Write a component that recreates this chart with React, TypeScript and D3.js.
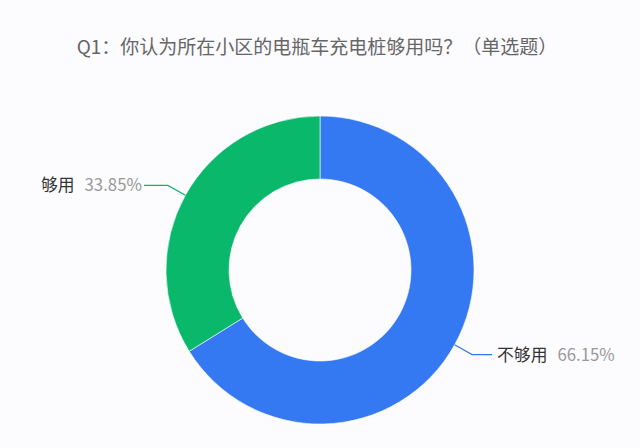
import React from "react";
import * as d3 from "d3";

const title = "Q1：你认为所在小区的电瓶车充电桩够用吗？（单选题）";
const categories = ["不够用", "够用"];
const values = [66.15, 33.85];
const colors = ["#3478f2", "#0ab86b"];

const W = 640;
const H = 448;
const cx = 320;
const cy = 270;
const outerR = 154;
const innerR = 91;

export default function App() {
  const pie = d3.pie<number>().sort(null).value((d) => d)(values);
  const arc = d3.arc<d3.PieArcDatum<number>>().innerRadius(innerR).outerRadius(outerR);
  const font = "'Noto Sans CJK SC', 'Noto Sans', sans-serif";
  return (
    <svg width={W} height={H} style={{ position: "absolute", left: 0, top: 0, background: "#fcfbfe" }}>
      <rect x={0} y={0} width={W} height={H} fill="#fcfbfe" />
      <text x={317} y={54} textAnchor="middle" fontSize={19} fill="#666" fontFamily={font}>
        {title}
      </text>
      <g transform={`translate(${cx},${cy})`}>
        {pie.map((p, i) => (
          <path key={i} d={arc(p) || ""} fill={colors[i]} stroke="#fcfbfe" strokeWidth={0.6} />
        ))}
        {pie.map((p, i) => {
          const mid = (p.startAngle + p.endAngle) / 2;
          const s = Math.sin(mid);
          const c = -Math.cos(mid);
          const p1 = [s * outerR, c * outerR];
          const p2 = [s * (outerR + 20), c * (outerR + 20)];
          const right = s > 0;
          const p3 = [p2[0] + (right ? 20 : -24), p2[1]];
          const tx = p3[0] + (right ? 5 : -2);
          return (
            <g key={"l" + i}>
              <polyline
                points={[p1, p2, p3].map((q) => q.join(",")).join(" ")}
                fill="none"
                stroke={colors[i]}
                strokeWidth={1.2}
              />
              <text
                x={tx}
                y={p3[1] + 6}
                textAnchor={right ? "start" : "end"}
                fontSize={16.8}
                fontFamily={font}
              >
                <tspan fill="#333">{categories[i]}</tspan>
                <tspan fill="#999" dx={10}>{values[i].toFixed(2) + "%"}</tspan>
              </text>
            </g>
          );
        })}
      </g>
    </svg>
  );
}
